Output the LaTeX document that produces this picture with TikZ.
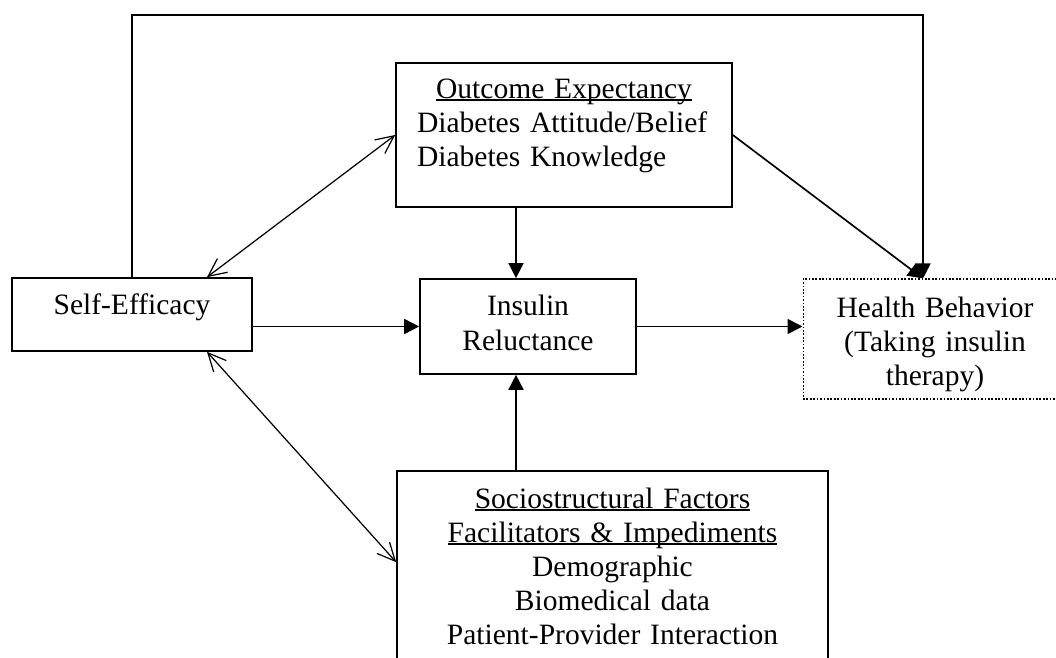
\documentclass[tikz,border=0pt]{standalone}
\usepackage{fontspec}
\setmainfont{Liberation Serif}
\usepackage{tikz}
\usetikzlibrary{arrows.meta,calc}

\newcommand{\undl}[1]{\leavevmode{\setbox0=\hbox{#1}\rlap{\rule[-0.09em]{\wd0}{0.05em}}\box0}}

\begin{document}
\begin{tikzpicture}[
		x=0.02cm, y=-0.02cm,
		box/.style={draw,line width=0.95pt,inner sep=0pt,align=center,
			font=\fontsize{16.8pt}{19.4pt}\selectfont},
		cause/.style={line width=0.95pt,-{Triangle[length=0.3cm,width=0.3cm]}},
		mutual/.style={line width=0.7pt,
			{Straight Barb[length=0.36cm,width=0.34cm]}-{Straight Barb[length=0.36cm,width=0.34cm]}}
		]
		\clip (0,0) rectangle (1056,658);

		\node[box,minimum width=4.8cm,text height=0.74cm,text depth=0.72cm] (self) at (132,314.5) {Self-Efficacy};
		\node[box,minimum width=6.72cm,text width=5.88cm,align=left,text height=0.7cm,text depth=2.18cm] (outc) at (564,135)
			{\makebox[\hsize]{\undl{Outcome Expectancy}}\\Diabetes Attitude/Belief\\Diabetes Knowledge};
		\node[box,minimum width=4.32cm,text width=4.32cm,text height=0.74cm,text depth=1.16cm] (insul) at (528,326.5) {Insulin\\Reluctance};
		\node[box,densely dotted,line width=0.6pt,minimum width=5.28cm,text width=5.28cm,text height=0.76cm,text depth=1.64cm] (health) at (935,339)
			{Health Behavior\\(Taking insulin\\therapy)};
		\node[box,minimum width=8.62cm,text width=8.62cm,text height=0.74cm,text depth=3.44cm] (soc) at (612.5,575.5)
			{\undl{Sociostructural Factors}\\\undl{Facilitators \& Impediments}\\Demographic\\Biomedical data\\Patient-Provider Interaction};

		\coordinate (loop) at (923,15);

		\draw[cause] (insul.west -| self.east) -- (insul.west);
		\draw[cause] (insul.east) -- (insul.east -| health.west);
		\draw[cause] ($(outc.south)+(-48,0)$) -- ($(insul.north)+(-12,0)$);
		\draw[cause] ($(soc.north)+(-96.5,0)$) -- ($(insul.south)+(-12,0)$);
		\draw[cause] (self.north) |- (loop) -- (loop |- health.north);
		\draw[cause] (outc.east) -- (loop |- health.north);

		\draw[mutual] ($(self.north)+(75,0)$) -- (outc.west);
		\draw[mutual] ($(self.south)+(75,0)$) -- ($(soc.north west)+(0,92)$);
	\end{tikzpicture}
\end{document}
